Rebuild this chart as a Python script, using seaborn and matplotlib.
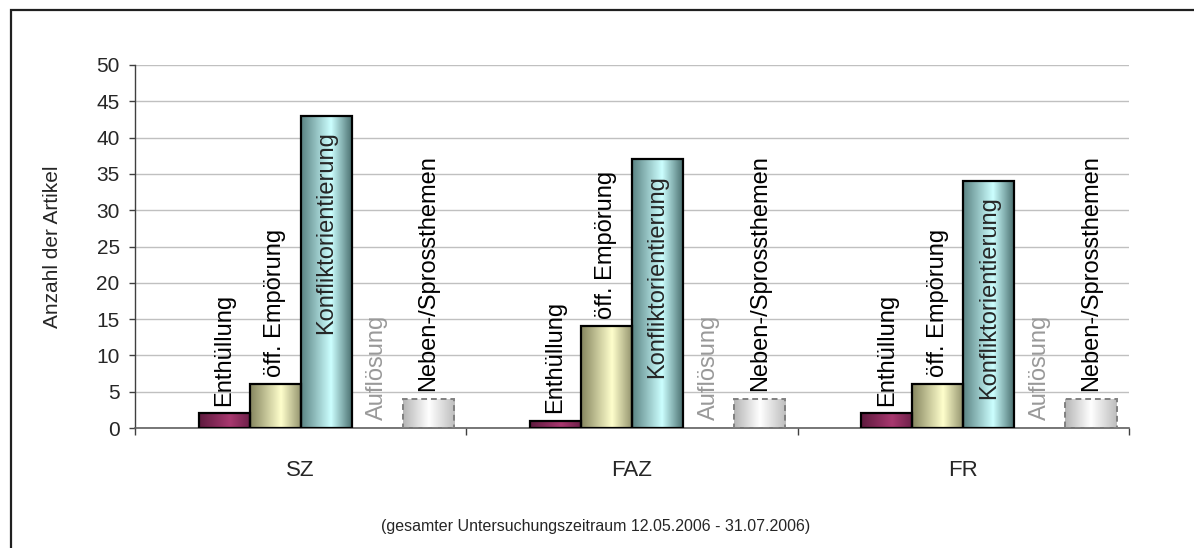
import numpy as np
import pandas as pd
import matplotlib
matplotlib.use('Agg')
import matplotlib.pyplot as plt
import seaborn as sns
from matplotlib.colors import LinearSegmentedColormap
from matplotlib.patches import Rectangle

zeitungen = ['SZ', 'FAZ', 'FR']
# erste Reihe ist leer (Platzhalter wie im Original-Diagramm)
themen = ['', 'Enthüllung', 'öff. Empörung', 'Konfliktorientierung', 'Auflösung', 'Neben-/Sprossthemen']
leer = [0, 0, 0]
enthuellung = [2, 1, 2]
empoerung = [6, 14, 6]
konflikt = [43, 37, 34]
aufloesung = [0, 0, 0]
neben = [4, 4, 4]
werte = [leer, enthuellung, empoerung, konflikt, aufloesung, neben]

# Farbverlauf je Reihe: links, Mitte, rechts, Lage der Mitte
verlauf = {
    'Enthüllung': ('#5e1a3e', '#a8386f', '#6a1f47', 0.6),
    'öff. Empörung': ('#85855f', '#ffffcc', '#8f8f6a', 0.6),
    'Konfliktorientierung': ('#5a8282', '#ccffff', '#456a6a', 0.58),
    'Neben-/Sprossthemen': ('#b5b5b5', '#ffffff', '#bdbdbd', 0.5),
}

rows = []
for thema, w in zip(themen, werte):
    for z, v in zip(zeitungen, w):
        rows.append({'Zeitung': z, 'Thema': thema, 'Anzahl': v})
df = pd.DataFrame(rows)

sns.set_style('white')
plt.rcParams['font.family'] = ['Liberation Sans', 'DejaVu Sans']

fig = plt.figure(figsize=(11.94, 5.48), dpi=100)
ax = fig.add_axes([135 / 1194, 1 - 428 / 548, (1129 - 135) / 1194, (428 - 65) / 548])

sns.barplot(data=df, x='Zeitung', y='Anzahl', hue='Thema', hue_order=themen,
            order=zeitungen, width=0.925, dodge=True, legend=False, ax=ax,
            errorbar=None, saturation=1)

for thema, cont in zip(themen, ax.containers):
    for bar in cont:
        if thema in verlauf and bar.get_height() > 0:
            l, m, r, pos = verlauf[thema]
            cmap = LinearSegmentedColormap.from_list('v', [(0, l), (pos, m), (1, r)])
            x0, w, h = bar.get_x(), bar.get_width(), bar.get_height()
            grad = np.linspace(0, 1, 256).reshape(1, -1)
            im = ax.imshow(grad, cmap=cmap, extent=[x0, x0 + w, 0, h],
                           aspect='auto', interpolation='bilinear', zorder=2)
            im.set_clip_path(bar)
            bar.set_facecolor('none')
            bar.set_zorder(3)
            if thema == 'Neben-/Sprossthemen':
                bar.set_edgecolor('#808080')
                bar.set_linestyle((0, (3, 2)))
                bar.set_linewidth(1.4)
            else:
                bar.set_edgecolor('black')
                bar.set_linewidth(1.6)
        else:
            bar.set_facecolor('none')
            bar.set_edgecolor('none')
        if thema == '':
            continue
        cx = bar.get_x() + bar.get_width() / 2
        h = bar.get_height()
        if thema == 'Konfliktorientierung':
            ax.annotate(thema, (cx, h), xytext=(0, -11), textcoords='offset points',
                        rotation=90, ha='center', va='top', fontsize=17, zorder=4)
        else:
            farbe = '#999999' if thema == 'Auflösung' else 'black'
            ax.annotate(thema, (cx, h), xytext=(0, 5.5), textcoords='offset points',
                        rotation=90, ha='center', va='bottom', fontsize=17,
                        color=farbe, zorder=4)

ax.set_xlim(-0.5, 2.5)
ax.set_ylim(0, 50)
ax.set_yticks(range(0, 51, 5))
ax.grid(axis='y', color='#c0c0c0', lw=1)
ax.set_axisbelow(True)

for s in ['top', 'right']:
    ax.spines[s].set_visible(False)
ax.spines['left'].set_color('#404040')
ax.spines['bottom'].set_color('#606060')
ax.spines['left'].set_linewidth(1)
ax.spines['bottom'].set_linewidth(1.2)

ax.tick_params(axis='y', which='major', left=True, length=4, width=1, color='#404040',
               labelsize=15, pad=7)
ax.tick_params(axis='x', which='major', length=0, labelsize=16, pad=23)
ax.set_xticks([-0.5, 0.5, 1.5, 2.5], minor=True)
ax.tick_params(axis='x', which='minor', bottom=True, length=5, width=1, color='#404040')

ax.set_xlabel('')
ax.set_ylabel('Anzahl der Artikel', fontsize=15, labelpad=25)

fig.text(596 / 1194, 1 - 527 / 548, '(gesamter Untersuchungszeitraum 12.05.2006 - 31.07.2006)',
         ha='center', va='center', fontsize=11.5)

rahmen = Rectangle((11 / 1194, -0.2), 1.2, 1.2 - 10 / 548, transform=fig.transFigure,
                   fill=False, edgecolor='#202020', lw=1.6, clip_on=False)
fig.patches.append(rahmen)

fig.savefig('out.png', dpi=100)
